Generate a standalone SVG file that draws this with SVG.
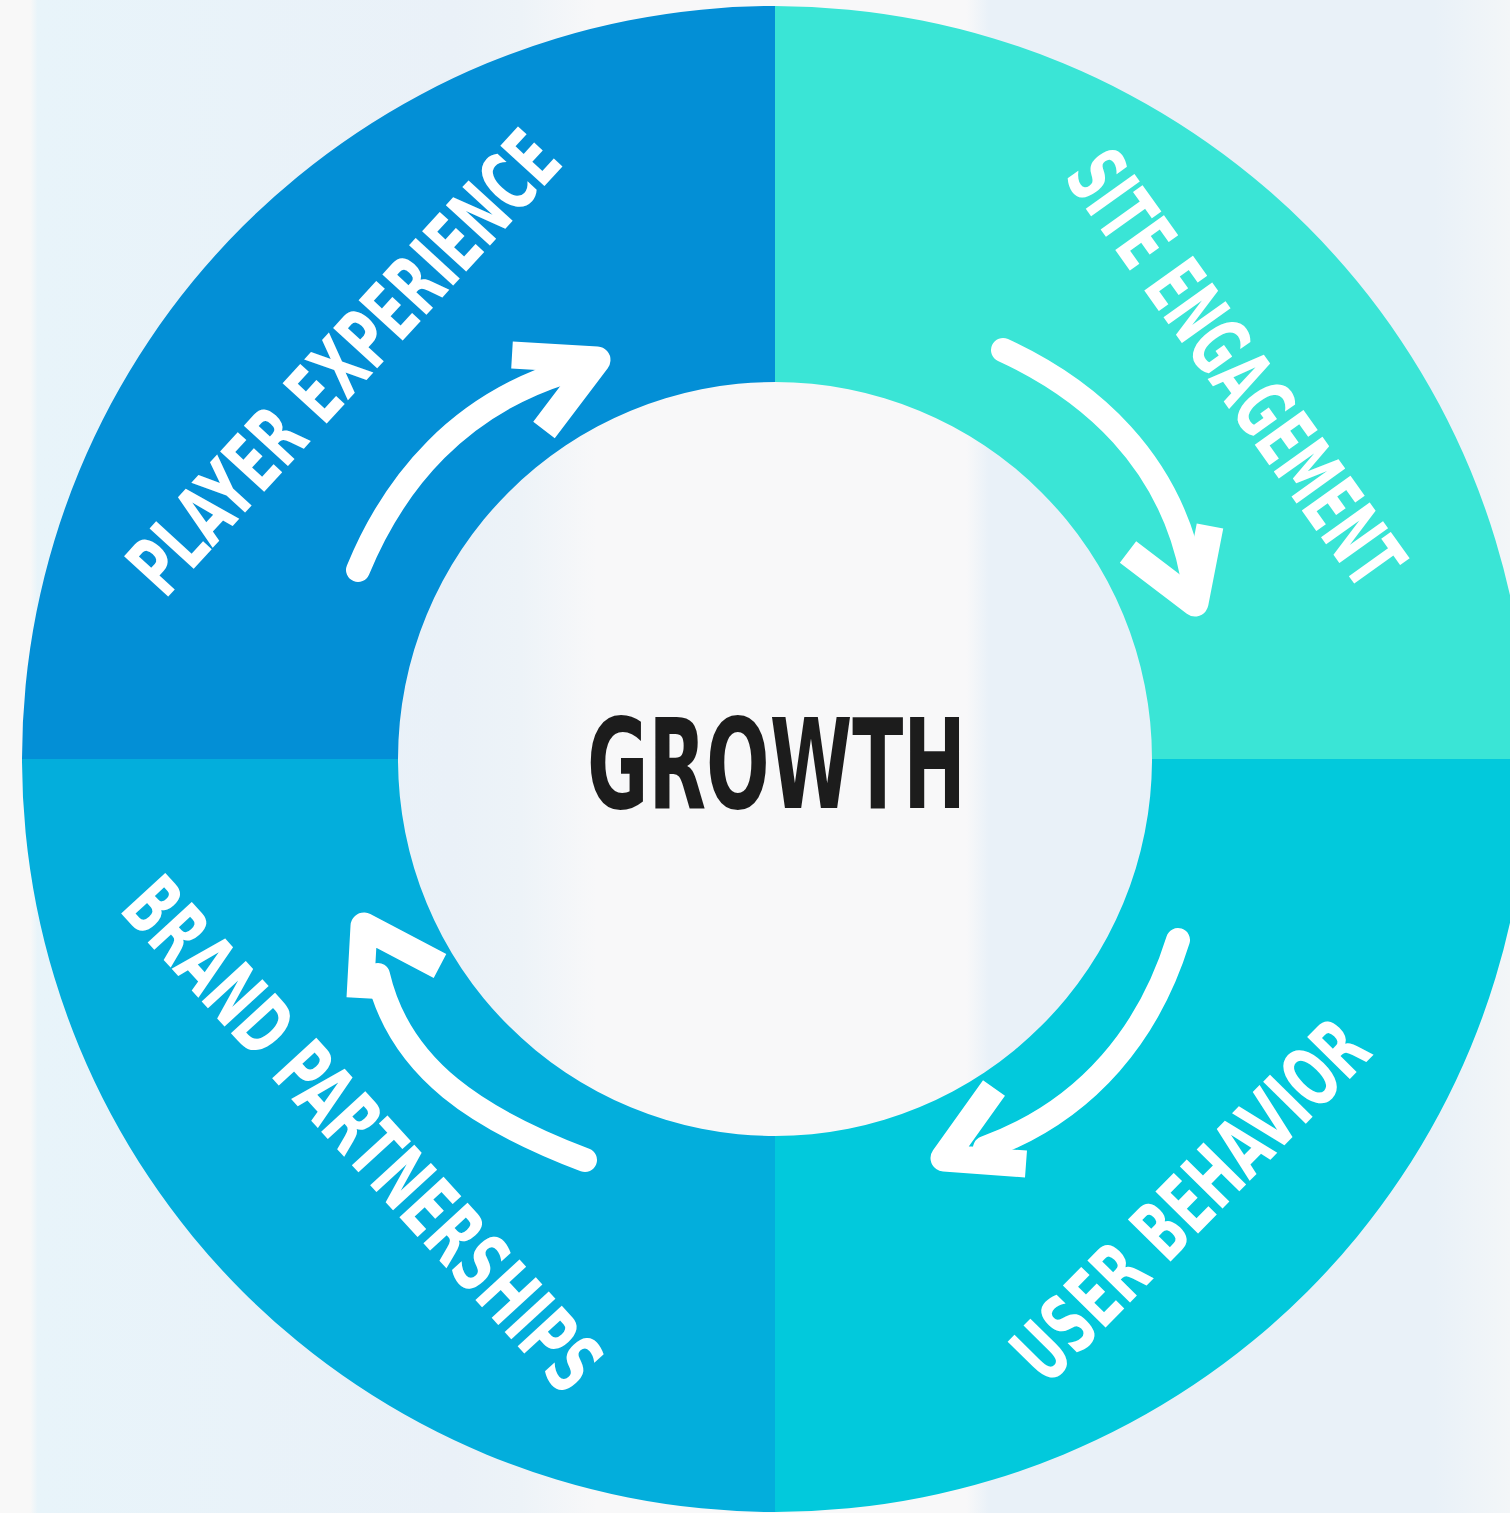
<svg xmlns="http://www.w3.org/2000/svg" width="1510" height="1513" viewBox="0 0 1510 1513">
  <defs>
    <linearGradient id="bg" gradientUnits="userSpaceOnUse" x1="0" y1="0" x2="1510" y2="0">
      <stop offset="0" stop-color="#F8F8F8"/>
      <stop offset="0.02" stop-color="#F8F8F8"/>
      <stop offset="0.025" stop-color="#E8F4FA"/>
      <stop offset="0.3" stop-color="#EAF1F8"/>
      <stop offset="0.345" stop-color="#EDF3F8"/>
      <stop offset="0.395" stop-color="#F8F8F9"/>
      <stop offset="0.64" stop-color="#F8F8F9"/>
      <stop offset="0.655" stop-color="#E9F1F8"/>
      <stop offset="0.95" stop-color="#E9F1F8"/>
      <stop offset="1" stop-color="#F3F6F8"/>
    </linearGradient>
  </defs>
  <style>
    .label { font-family: "Liberation Sans Narrow", "DejaVu Sans Condensed", "Roboto", sans-serif; font-weight: bold; font-size: 82px; fill: #FFFFFF; }
    .center { font-family: "Liberation Sans Narrow", "DejaVu Sans Condensed", "Roboto", sans-serif; font-weight: bold; font-size: 124px; fill: #1C1C1C; }
    .shaft { fill: none; stroke: #FFFFFF; stroke-width: 24; stroke-linecap: round; }
    .head { fill: none; stroke: #FFFFFF; stroke-width: 27; stroke-linecap: butt; stroke-linejoin: round; }
  </style>

  <rect x="0" y="0" width="1510" height="1513" fill="url(#bg)"/>

  <g id="node-player-experience">
    <path d="M 22,759 A 753,753 0 0 1 775,6 L 775,382 A 377,377 0 0 0 398,759 Z" fill="#038FD6"/>
    <text class="label" transform="translate(165,600) rotate(-47.5)" x="0" y="0" textLength="592" lengthAdjust="spacingAndGlyphs">PLAYER EXPERIENCE</text>
  </g>

  <g id="node-site-engagement">
    <path d="M 775,6 A 753,753 0 0 1 1528,759 L 1152,759 A 377,377 0 0 0 775,382 Z" fill="#3AE5D6"/>
    <text class="label" transform="translate(1063,177) rotate(54.4)" x="0" y="0" textLength="512" lengthAdjust="spacingAndGlyphs">SITE ENGAGEMENT</text>
  </g>

  <g id="node-user-behavior">
    <path d="M 1528,759 A 753,753 0 0 1 775,1512 L 775,1136 A 377,377 0 0 0 1152,759 Z" fill="#02C9DC"/>
    <text class="label" transform="translate(1047,1387) rotate(-45.5)" x="0" y="0" textLength="467" lengthAdjust="spacingAndGlyphs">USER BEHAVIOR</text>
  </g>

  <g id="node-brand-partnerships">
    <path d="M 775,1512 A 753,753 0 0 1 22,759 L 398,759 A 377,377 0 0 0 775,1136 Z" fill="#03AEDC"/>
    <text class="label" transform="translate(118,910) rotate(47.5)" x="0" y="0" textLength="662" lengthAdjust="spacingAndGlyphs">BRAND PARTNERSHIPS</text>
  </g>

  <g id="node-growth">
    <text class="center" x="587" y="808" textLength="379" lengthAdjust="spacingAndGlyphs">GROWTH</text>
  </g>

  <g id="connectors">
    <path class="shaft" d="M 358,570 C 395,480 460,405 565,372"/>
    <polyline class="head" points="512,355 597,360 544,430"/>

    <path class="shaft" d="M 1003,350 C 1090,390 1170,460 1192,575"/>
    <polyline class="head" points="1128,552 1195,603 1210,526"/>

    <path class="shaft" d="M 1178,940 C 1150,1030 1090,1110 985,1148"/>
    <polyline class="head" points="994,1088 944,1158 1026,1164"/>

    <path class="shaft" d="M 585,1160 C 480,1120 400,1070 378,975"/>
    <polyline class="head" points="360,998 364,926 440,966"/>
  </g>
</svg>
